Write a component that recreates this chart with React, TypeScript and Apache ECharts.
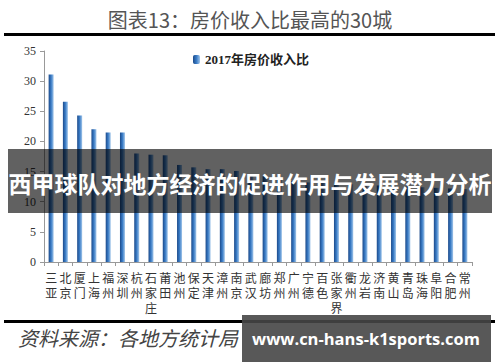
import React, { useEffect, useRef } from "react";
import * as echarts from "echarts";

const cities = [
  "三亚", "北京", "厦门", "上海", "福州", "深圳", "杭州", "石家庄", "莆田", "池州",
  "保定", "天津", "漳州", "南京", "武汉", "廊坊", "郑州", "广州", "宁德", "百色",
  "张家界", "衢州", "龙岩", "济南", "黄山", "青岛", "珠海", "阜阳", "合肥", "常州",
];
const ratio2017 = [
  31.1, 26.6, 24.3, 22.0, 21.5, 21.5, 18.0, 17.8, 17.7, 16.1,
  15.7, 15.4, 15.4, 15.1, 14.5, 14.2, 13.6, 13.4, 13.2, 13.1,
  13.0, 12.9, 12.8, 12.7, 12.6, 12.5, 12.4, 12.3, 12.2, 12.1,
];
const seriesName = "2017年房价收入比";
const yTicks = { min: 0, max: 35, interval: 5 };
const titleText = "图表13：房价收入比最高的30城";
const sourceText = "资料来源：各地方统计局";
const bannerText = "西甲球队对地方经济的促进作用与发展潜力分析";
const watermarkText = "www.cn-hans-k1sports.com";

export default function App() {
  const ref = useRef<HTMLDivElement>(null);
  useEffect(() => {
    if (!ref.current) return;
    const chart = echarts.init(ref.current, undefined, { renderer: "svg" });
    const barColor = new echarts.graphic.LinearGradient(0, 0, 1, 0, [
      { offset: 0, color: "#1c4a8a" },
      { offset: 0.5, color: "#3a7cc6" },
      { offset: 1, color: "#a2c6ea" },
    ]);
    chart.setOption({
      animation: false,
      backgroundColor: "#ffffff",
      grid: { left: 44, right: 28, top: 51, bottom: 100 },
      legend: {
        left: 188,
        top: 48,
        itemWidth: 7,
        itemHeight: 9,
        itemGap: 4,
        textStyle: {
          fontFamily: "Liberation Serif, Noto Sans CJK SC",
          fontWeight: "bold",
          fontSize: 13,
          color: "#222",
        },
        data: [seriesName],
      },
      xAxis: {
        type: "category",
        data: cities,
        axisLine: { lineStyle: { color: "#999", width: 1 } },
        axisTick: { show: true, length: 4, lineStyle: { color: "#999" } },
        axisLabel: {
          interval: 0,
          margin: 8,
          fontSize: 12,
          lineHeight: 15,
          color: "#333",
          fontFamily: "Noto Sans CJK SC",
          formatter: (v: string) => v.split("").join("\n"),
        },
      },
      yAxis: {
        type: "value",
        min: yTicks.min,
        max: yTicks.max,
        interval: yTicks.interval,
        splitLine: { show: false },
        axisLine: { show: true, lineStyle: { color: "#999" } },
        axisTick: { show: true, length: 4, lineStyle: { color: "#999" } },
        axisLabel: {
          margin: 8,
          fontSize: 12,
          color: "#333",
          fontFamily: "Liberation Serif",
        },
      },
      series: [
        {
          name: seriesName,
          type: "bar",
          data: ratio2017,
          barWidth: 5,
          itemStyle: { color: barColor },
        },
      ],
      graphic: [
        {
          type: "text",
          left: "center",
          top: 9,
          style: {
            text: titleText,
            fontSize: 20,
            fontFamily: "Noto Sans CJK SC",
            fill: "#555",
          },
        },
        { type: "rect", shape: { x: 4, y: 33, width: 491, height: 3 }, style: { fill: "#000" } },
        { type: "rect", shape: { x: 4, y: 320, width: 491, height: 3 }, style: { fill: "#000" } },
        {
          type: "text",
          x: 18,
          y: 337,
          style: {
            text: sourceText,
            fontSize: 20,
            fontStyle: "italic",
            fontFamily: "Noto Sans CJK SC",
            fill: "#444",
            verticalAlign: "middle",
          },
        },
        {
          type: "rect",
          z: 100,
          shape: { x: 8, y: 149, width: 484, height: 64 },
          style: { fill: "rgba(0,0,0,0.62)" },
        },
        {
          type: "text",
          z: 101,
          x: 250,
          y: 183,
          style: {
            text: bannerText,
            fontSize: 23,
            fontWeight: "bold",
            fontFamily: "Noto Sans CJK SC",
            fill: "#ffffff",
            align: "center",
            verticalAlign: "middle",
          },
        },
        {
          type: "rect",
          z: 100,
          shape: { x: 242, y: 315, width: 249, height: 47 },
          style: { fill: "rgba(70,70,70,0.9)" },
        },
        {
          type: "text",
          z: 101,
          x: 366,
          y: 338,
          style: {
            text: watermarkText,
            fontSize: 16.5,
            fontWeight: "bold",
            fontFamily: "Open Sans",
            fill: "#ffffff",
            align: "center",
            verticalAlign: "middle",
          },
        },
      ],
    });
    return () => chart.dispose();
  }, []);
  return (
    <div
      ref={ref}
      style={{ position: "fixed", left: 0, top: 0, width: 500, height: 362 }}
    />
  );
}
